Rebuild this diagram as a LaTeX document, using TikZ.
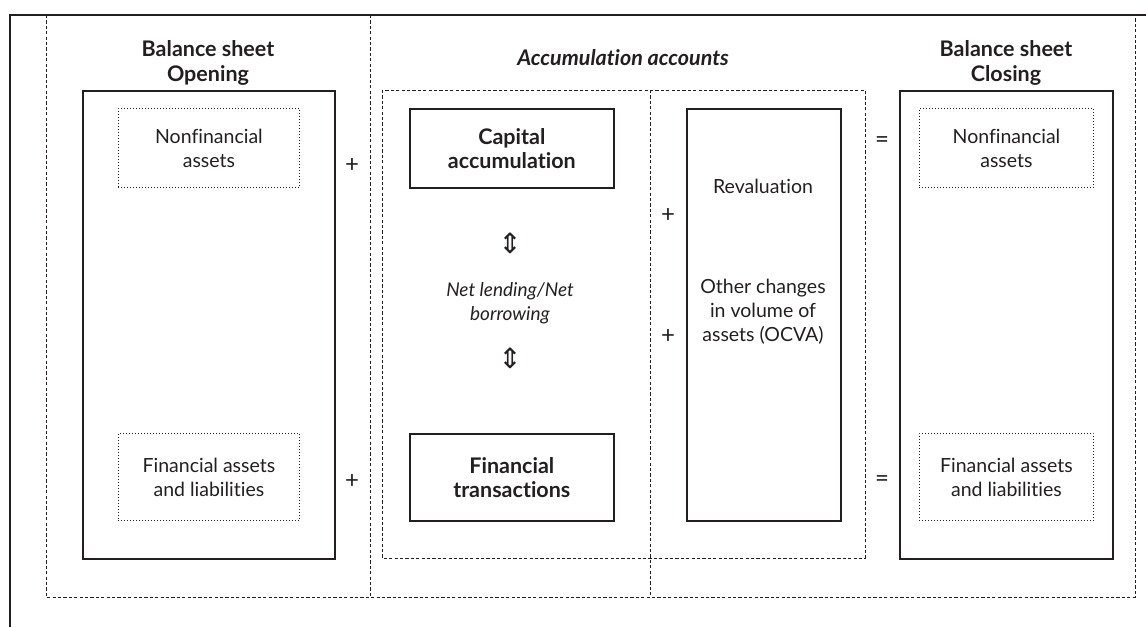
\documentclass[tikz,border=0pt]{standalone}
\usepackage{fontspec}
\setmainfont[Ligatures={NoCommon}]{Lato}
\newfontfamily\symfont{DejaVu Sans}
\definecolor{ink}{HTML}{231F20}
\begin{document}
\begin{tikzpicture}[x=1pt,y=-1pt,
  txt/.style={font=\fontsize{19.5}{24}\selectfont,align=center,text=ink,inner sep=0pt},
  head/.style={txt,font=\fontsize{21.5}{25}\selectfont\bfseries},
  solidbox/.style={draw=ink,line width=1.7pt,inner sep=0pt,anchor=north west},
  dotbox/.style={draw=ink,line width=0.9pt,dash pattern=on 0.9pt off 2.1pt,inner sep=0pt,anchor=north west},
  dashline/.style={draw=ink,line width=0.9pt,dash pattern=on 3.2pt off 2.2pt},
  sign/.style={txt,font=\fontsize{24}{24}\selectfont}]
\useasboundingbox (0,0) rectangle (1146,627);
% outer frame (top and left)
\coordinate (ftl) at (10,15);
\coordinate (ftr) at (1146,15);
\coordinate (fbl) at (10,627);
\draw[ink,line width=1.6pt] (fbl) -- (ftl) -- (ftr);
% large dashed frame and dividers
\draw[dashline] (46,15) -- (46,597) -- (1135,597) -- (1135,15);
\draw[dashline] (370,15) -- (370,597);
\draw[dashline] (382,90) rectangle (865,558);
\draw[dashline] (650,90) -- (650,597);
% headings
\node[head] (hopen) at (208,63) {Balance sheet\\Opening};
\node[txt,font=\fontsize{21.5}{25}\selectfont\bfseries\itshape] (hacc) at (623,58) {Accumulation accounts};
\node[head] (hclose) at (1006,63) {Balance sheet\\Closing};
% opening balance sheet
\node[solidbox,minimum width=252pt,minimum height=468pt] (open) at (82,90) {};
\node[dotbox,minimum width=181pt,minimum height=79pt] (onf) at (118,108) {};
\node[txt] (onft) at (onf.center) {Nonfinancial\\assets};
\node[dotbox,minimum width=181pt,minimum height=87pt] (ofa) at (118,433) {};
\node[txt] (ofat) at (ofa.center) {Financial assets\\and liabilities};
% signs
\node[sign] (p1) at (352,165) {+};
\node[sign] (p2) at (352,481) {+};
\node[sign] (p3) at (668,215) {+};
\node[sign] (p4) at (668,336) {+};
\node[sign] (e1) at (882,142) {=};
\node[sign] (e2) at (882,481) {=};
% accumulation
\node[solidbox,minimum width=204pt,minimum height=79pt] (cap) at (409,108) {};
\node[txt,font=\fontsize{21.5}{24}\selectfont\bfseries] (capt) at (cap.center) {Capital\\accumulation};
\node[solidbox,minimum width=204pt,minimum height=87pt] (fin) at (409,433) {};
\node[txt,font=\fontsize{21.5}{24}\selectfont\bfseries] (fint) at (fin.center) {Financial\\transactions};
\node[txt,font=\fontsize{28}{30}\selectfont\symfont] (a1) at (510,243) {⇕};
\node[txt,font=\fontsize{28}{30}\selectfont\symfont] (a2) at (510,358) {⇕};
\node[txt,font=\fontsize{19}{24}\selectfont\itshape] (nl) at (510,303) {Net lending/Net\\borrowing};
% revaluation / OCVA
\node[solidbox,minimum width=154pt,minimum height=412pt] (rev) at (686,108) {};
\node[txt] (revt) at (763,186) {Revaluation};
\node[txt] (ocva) at (763,312) {Other changes\\in volume of\\assets (OCVA)};
% closing balance sheet
\node[solidbox,minimum width=213pt,minimum height=468pt] (close) at (899,90) {};
\node[dotbox,minimum width=174pt,minimum height=79pt] (cnf) at (919,108) {};
\node[txt] (cnft) at (cnf.center) {Nonfinancial\\assets};
\node[dotbox,minimum width=174pt,minimum height=87pt] (cfa) at (919,433) {};
\node[txt] (cfat) at (cfa.center) {Financial assets\\and liabilities};
\end{tikzpicture}
\end{document}
